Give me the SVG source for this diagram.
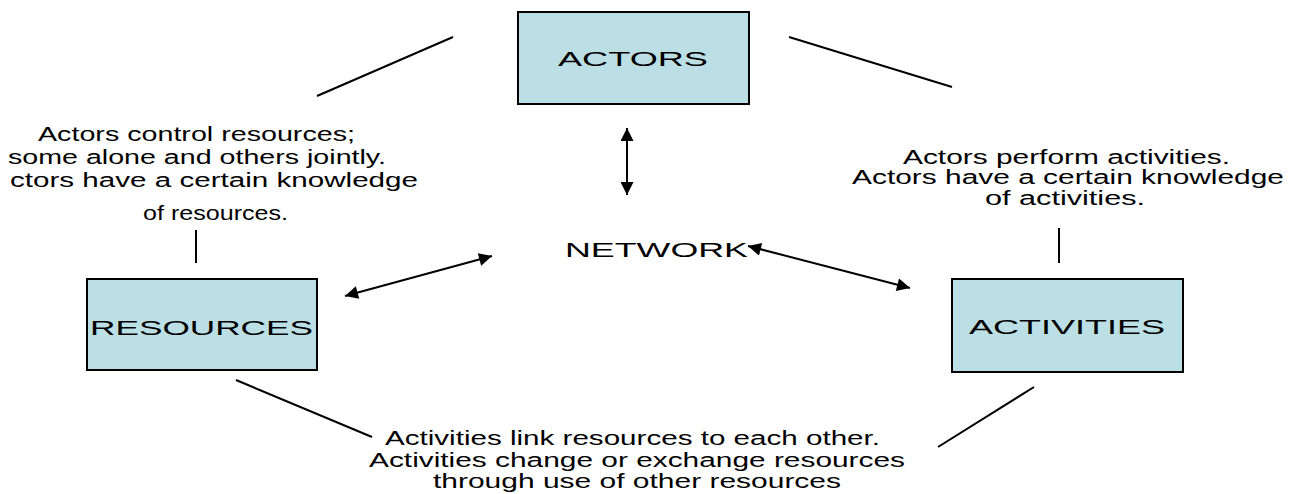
<svg xmlns="http://www.w3.org/2000/svg" width="1293" height="494" viewBox="0 0 1293 494">
<style>
.box{fill:#bcdfe5;stroke:#000;stroke-width:2}
.lbl{font-family:"Liberation Sans",Arial,sans-serif;font-size:21px;fill:#000}
.txt{font-family:"Liberation Sans",Arial,sans-serif;font-size:20px;fill:#000}
.ln{stroke:#000;stroke-width:2;fill:none}
</style>
<defs>
<marker id="ah" viewBox="0 0 10 10" refX="10" refY="5" markerWidth="7" markerHeight="6.5" markerUnits="strokeWidth" orient="auto-start-reverse">
<path d="M0,0 L10,5 L0,10 z" fill="#000"/>
</marker>
</defs>
<rect width="1293" height="494" fill="#fff"/>
<g id="connectors">
<line class="ln" x1="317" y1="96" x2="453" y2="37"/>
<line class="ln" x1="789" y1="37" x2="952" y2="87"/>
<line class="ln" x1="196" y1="230" x2="196" y2="263"/>
<line class="ln" x1="1059" y1="228" x2="1059" y2="263"/>
<line class="ln" x1="236" y1="380" x2="372" y2="437"/>
<line class="ln" x1="938" y1="447" x2="1034" y2="387"/>
<line class="ln" x1="627" y1="128" x2="627" y2="195" marker-start="url(#ah)" marker-end="url(#ah)"/>
<line class="ln" x1="345" y1="296" x2="492" y2="256" marker-start="url(#ah)" marker-end="url(#ah)"/>
<line class="ln" x1="748" y1="246" x2="910" y2="288" marker-start="url(#ah)" marker-end="url(#ah)"/>
</g>
<g id="actors">
<rect class="box" x="518" y="12" width="231" height="92"/>
<text class="lbl" x="558" y="66" textLength="150" lengthAdjust="spacingAndGlyphs">ACTORS</text>
</g>
<g id="resources">
<rect class="box" x="87" y="279" width="230" height="91"/>
<text class="lbl" x="90" y="335" textLength="223" lengthAdjust="spacingAndGlyphs">RESOURCES</text>
</g>
<g id="activities">
<rect class="box" x="952" y="279" width="231" height="93"/>
<text class="lbl" x="969" y="334" textLength="196" lengthAdjust="spacingAndGlyphs">ACTIVITIES</text>
</g>
<g id="network">
<text class="lbl" x="565" y="257" textLength="183" lengthAdjust="spacingAndGlyphs">NETWORK</text>
</g>
<g id="note-left">
<text class="txt" x="38" y="141" textLength="317" lengthAdjust="spacingAndGlyphs">Actors control resources;</text>
<text class="txt" x="8" y="164" textLength="378" lengthAdjust="spacingAndGlyphs">some alone and others jointly.</text>
<text class="txt" x="10" y="187" textLength="408" lengthAdjust="spacingAndGlyphs">ctors have a certain knowledge</text>
<text class="txt" x="143" y="220" textLength="145" lengthAdjust="spacingAndGlyphs">of resources.</text>
</g>
<g id="note-right">
<text class="txt" x="903" y="164" textLength="327" lengthAdjust="spacingAndGlyphs">Actors perform activities.</text>
<text class="txt" x="852" y="184" textLength="432" lengthAdjust="spacingAndGlyphs">Actors have a certain knowledge</text>
<text class="txt" x="985" y="205" textLength="160" lengthAdjust="spacingAndGlyphs">of activities.</text>
</g>
<g id="note-bottom">
<text class="txt" x="385" y="445" textLength="495" lengthAdjust="spacingAndGlyphs">Activities link resources to each other.</text>
<text class="txt" x="369" y="467" textLength="536" lengthAdjust="spacingAndGlyphs">Activities change or exchange resources</text>
<text class="txt" x="433" y="488" textLength="408" lengthAdjust="spacingAndGlyphs">through use of other resources</text>
</g>
</svg>
